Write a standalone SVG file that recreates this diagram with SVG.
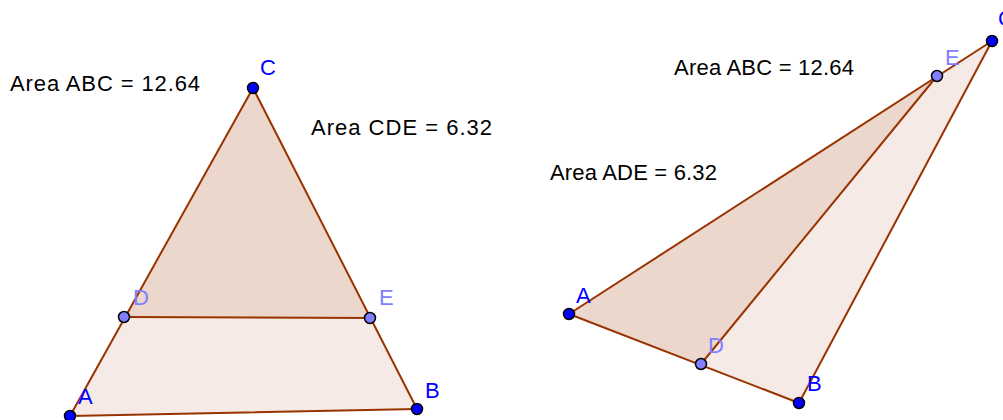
<svg xmlns="http://www.w3.org/2000/svg" width="1003" height="420" viewBox="0 0 1003 420">
<style>
.poly{fill:#993300;fill-opacity:0.1;stroke:none}
.seg{stroke:#993300;stroke-width:2;fill:none;stroke-linecap:round}
.free{fill:#0000ff;stroke:#000;stroke-width:1.5}
.dep{fill:#7f7fff;stroke:#000;stroke-width:1.5}
.lf{font-family:"Liberation Sans",Arial,sans-serif;font-size:22px;fill:#0000ff}
.ld{font-family:"Liberation Sans",Arial,sans-serif;font-size:22px;fill:#7f7fff}
.t{font-family:"Liberation Sans",Arial,sans-serif;font-size:22px;fill:#000}
</style>
<rect width="1003" height="420" fill="#fff"/>
<g id="left">
  <polygon class="poly" points="70,416 417,409 253,88"/>
  <polygon class="poly" points="253,88 124,317 370,318"/>
  <g id="connectors-left">
    <line class="seg" x1="70" y1="416" x2="417" y2="409"/>
    <line class="seg" x1="417" y1="409" x2="253" y2="88"/>
    <line class="seg" x1="253" y1="88" x2="70" y2="416"/>
    <line class="seg" x1="124" y1="317" x2="370" y2="318"/>
  </g>
  <g id="L-A"><circle class="free" cx="70" cy="416" r="5.5"/><text class="lf" x="78" y="404">A</text></g>
  <g id="L-B"><circle class="free" cx="417" cy="409" r="5.5"/><text class="lf" x="425" y="398">B</text></g>
  <g id="L-C"><circle class="free" cx="253" cy="88" r="5.5"/><text class="lf" x="260" y="75">C</text></g>
  <g id="L-D"><circle class="dep" cx="124" cy="317" r="5.5"/><text class="ld" x="133" y="305">D</text></g>
  <g id="L-E"><circle class="dep" cx="370" cy="318" r="5.5"/><text class="ld" x="379" y="305">E</text></g>
  <text class="t" x="10" y="91" textLength="190" lengthAdjust="spacing">Area ABC = 12.64</text>
  <text class="t" x="311" y="135" textLength="181" lengthAdjust="spacing">Area CDE = 6.32</text>
</g>
<g id="right">
  <polygon class="poly" points="569,314 799,403 992,41"/>
  <polygon class="poly" points="569,314 701,364 937,76"/>
  <g id="connectors-right">
    <line class="seg" x1="569" y1="314" x2="799" y2="403"/>
    <line class="seg" x1="799" y1="403" x2="992" y2="41"/>
    <line class="seg" x1="992" y1="41" x2="569" y2="314"/>
    <line class="seg" x1="701" y1="364" x2="937" y2="76"/>
  </g>
  <g id="R-A"><circle class="free" cx="569" cy="314" r="5.5"/><text class="lf" x="576" y="303">A</text></g>
  <g id="R-B"><circle class="free" cx="799" cy="403" r="5.5"/><text class="lf" x="807" y="391">B</text></g>
  <g id="R-C"><circle class="free" cx="992" cy="41" r="5.5"/><text class="lf" x="998" y="26">C</text></g>
  <g id="R-D"><circle class="dep" cx="701" cy="364" r="5.5"/><text class="ld" x="708" y="353">D</text></g>
  <g id="R-E"><circle class="dep" cx="937" cy="76" r="5.5"/><text class="ld" x="945" y="65">E</text></g>
  <text class="t" x="674" y="75" textLength="180" lengthAdjust="spacing">Area ABC = 12.64</text>
  <text class="t" x="550" y="180" textLength="167" lengthAdjust="spacing">Area ADE = 6.32</text>
</g>
</svg>
